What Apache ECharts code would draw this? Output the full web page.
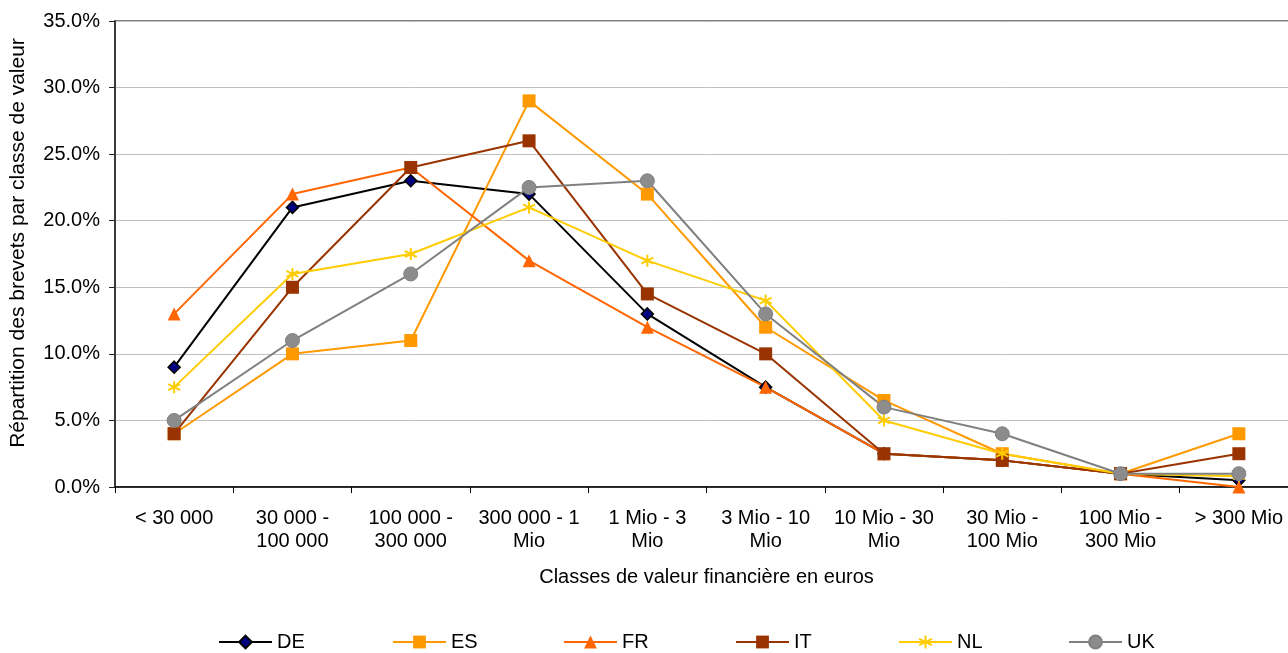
<!DOCTYPE html>
<html>
<head>
<meta charset="utf-8">
<script src="https://cdn.jsdelivr.net/npm/echarts@6/dist/echarts.min.js"></script>
<style>
  html, body { margin: 0; padding: 0; background: #fff; overflow: hidden; }
  #chart { width: 1298px; height: 653px; }
</style>
</head>
<body>
<div id="chart"></div>
<script>
// Value classes (x axis)
const categories = [
  '< 30 000', '30 000 -\n100 000', '100 000 -\n300 000', '300 000 - 1\nMio',
  '1 Mio - 3\nMio', '3 Mio - 10\nMio', '10 Mio - 30\nMio', '30 Mio -\n100 Mio',
  '100 Mio -\n300 Mio', '> 300 Mio'
];

// Share of patents per value class, in percent
const DE = [9, 21, 23, 22, 13, 7.5, 2.5, 2, 1, 0.5];
const ES = [4, 10, 11, 29, 22, 12, 6.5, 2.5, 1, 4];
const FR = [13, 22, 24, 17, 12, 7.5, 2.5, 2, 1, 0];
const IT = [4, 15, 24, 26, 14.5, 10, 2.5, 2, 1, 2.5];
const NL = [7.5, 16, 17.5, 21, 17, 14, 5, 2.5, 1, 0.8];
const UK = [5, 11, 16, 22.5, 23, 13, 6, 4, 1, 1];

const countries = ['DE', 'ES', 'FR', 'IT', 'NL', 'UK'];
const yTicks = [0, 5, 10, 15, 20, 25, 30, 35];

const FONT = 'Liberation Sans, Arial, sans-serif';
const FS = 20;
const asterisk = 'path://M5 0 L5 10 M0.7 2.5 L9.3 7.5 M0.7 7.5 L9.3 2.5';

function line(name, data, color, symbol, size, extra) {
  return Object.assign({
    name: name,
    type: 'line',
    data: data,
    symbol: symbol,
    symbolSize: size,
    showAllSymbol: true,
    lineStyle: { color: color, width: 2 },
    itemStyle: { color: color },
    emphasis: { disabled: true },
    animation: false
  }, extra || {});
}

// one legend block per country so each entry sits at its own spot
const legendLefts = [218, 392, 563, 735, 898, 1068];
const legends = countries.map((c, i) => ({
  data: [c],
  left: legendLefts[i],
  top: 632,
  padding: 0,
  itemWidth: 53,
  itemHeight: 16,
  selectedMode: false,
  textStyle: { fontFamily: FONT, fontSize: FS, color: '#000' }
}));

const chart = echarts.init(document.getElementById('chart'), null, { renderer: 'canvas' });
chart.setOption({
  backgroundColor: '#ffffff',
  textStyle: { fontFamily: FONT },
  grid: {
    left: 113, top: 21, right: 0, bottom: 166, containLabel: false,
    show: true, borderColor: '#808080', borderWidth: 2, backgroundColor: 'transparent'
  },
  legend: legends,
  xAxis: {
    type: 'category',
    data: categories,
    boundaryGap: true,
    name: 'Classes de valeur financière en euros',
    nameLocation: 'middle',
    nameGap: 80,
    nameTextStyle: { fontFamily: FONT, fontSize: FS, color: '#000' },
    axisLine: { lineStyle: { color: '#000', width: 1.5 } },
    axisTick: { show: true, length: 6, lineStyle: { color: '#000' } },
    axisLabel: { interval: 0, fontFamily: FONT, fontSize: FS, color: '#000', lineHeight: 23, margin: 20 },
    splitLine: { show: false }
  },
  yAxis: {
    type: 'value',
    min: yTicks[0],
    max: yTicks[yTicks.length - 1],
    interval: 5,
    name: 'Répartition des brevets par classe de valeur',
    nameLocation: 'middle',
    nameGap: 86,
    nameRotate: 90,
    nameTextStyle: { fontFamily: FONT, fontSize: 21, color: '#000', padding: [0, 0, 0, 22] },
    axisLine: { show: true, lineStyle: { color: '#222', width: 1.5 } },
    axisTick: { show: true, length: 6, inside: false, lineStyle: { color: '#222' } },
    axisLabel: { fontFamily: FONT, fontSize: FS, color: '#000', margin: 15, formatter: v => v.toFixed(1) + '%' },
    splitLine: { show: true, lineStyle: { color: '#c0c0c0', width: 1 } }
  },
  series: [
    line('DE', DE, '#000000', 'diamond', 12, { itemStyle: { color: '#000080', borderColor: '#000', borderWidth: 1.5 } }),
    line('ES', ES, '#ff9900', 'rect', 13),
    line('FR', FR, '#ff6600', 'triangle', 13),
    line('IT', IT, '#993300', 'rect', 13),
    line('NL', NL, '#ffcc00', asterisk, 12, { itemStyle: { color: 'rgba(0,0,0,0)', borderColor: '#ffcc00', borderWidth: 2 } }),
    line('UK', UK, '#808080', 'circle', 14, { itemStyle: { color: '#8c8c8c', borderColor: '#808080', borderWidth: 1 } })
  ]
});
</script>
</body>
</html>
